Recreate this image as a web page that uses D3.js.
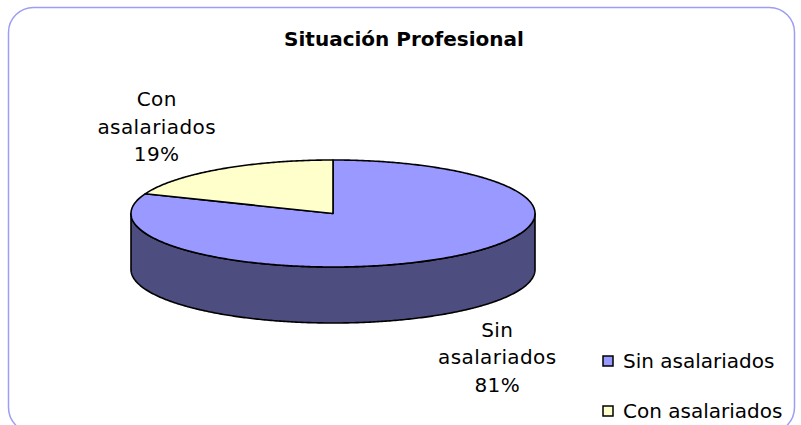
<!DOCTYPE html>
<html>
<head>
<meta charset="utf-8">
<script src="https://cdn.jsdelivr.net/npm/d3@7"></script>
<style>
  body { margin: 0; background: #fff; }
  svg { display: block; font-family: "DejaVu Sans", sans-serif; }
</style>
</head>
<body>
<div id="chart"></div>
<script>
const title = 'Situación Profesional';
const categories = ['Sin asalariados', 'Con asalariados'];
const values = [81, 19];
const labelLines = [['Sin', 'asalariados', '81%'], ['Con', 'asalariados', '19%']];
const topColors = ['#9999ff', '#ffffcc'];
const sideColors = ['#4d4d80', '#80805f'];

const width = 801;
const height = 425;

// pie geometry (ellipse seen at an angle)
const cx = 333, cy = 213.5;
const rx = 202, ry = 53.5;
const depth = 56;

const svg = d3.select('#chart')
  .append('svg')
  .attr('width', width)
  .attr('height', height);

// chart frame
svg.append('rect')
  .attr('x', 8.5)
  .attr('y', 7.5)
  .attr('width', 786)
  .attr('height', 425)
  .attr('rx', 25)
  .attr('fill', '#fff')
  .attr('stroke', '#9d9df5')
  .attr('stroke-width', 1.5);

svg.append('text')
  .attr('x', 404)
  .attr('y', 46)
  .attr('text-anchor', 'middle')
  .style('font-size', '20px')
  .style('font-weight', 'bold')
  .text(title);

const color = d3.scaleOrdinal().domain(categories).range(topColors);
const sideColor = d3.scaleOrdinal().domain(categories).range(sideColors);

const arcs = d3.pie().sort(null).startAngle(0).endAngle(2 * Math.PI)
  .value(d => d.value)(categories.map((c, i) => ({ name: c, value: values[i], lines: labelLines[i] })));

const ex = a => cx + rx * Math.sin(a);
const ey = a => cy - ry * Math.cos(a);

function sample(a0, a1) {
  const n = Math.max(2, Math.ceil(Math.abs(a1 - a0) / 0.01));
  return d3.range(n + 1).map(i => a0 + (a1 - a0) * i / n);
}

const line = d3.line();

function topPath(d) {
  const pts = [[cx, cy]].concat(sample(d.startAngle, d.endAngle).map(a => [ex(a), ey(a)]));
  return line(pts) + 'Z';
}

// front wall is visible where the angle is between PI/2 and 3PI/2
function sidePath(d) {
  const a0 = Math.max(d.startAngle, Math.PI / 2);
  const a1 = Math.min(d.endAngle, 3 * Math.PI / 2);
  if (a1 <= a0) return null;
  const top = sample(a0, a1).map(a => [ex(a), ey(a)]);
  const bottom = sample(a1, a0).map(a => [ex(a), ey(a) + depth]);
  return line(top.concat(bottom)) + 'Z';
}

const pie = svg.append('g');

pie.selectAll('path.side')
  .data(arcs.filter(d => sidePath(d)))
  .join('path')
  .attr('class', 'side')
  .attr('d', sidePath)
  .attr('fill', d => sideColor(d.data.name))
  .attr('stroke', '#000')
  .attr('stroke-width', 1.6)
  .attr('stroke-linejoin', 'round');

pie.selectAll('path.top')
  .data(arcs)
  .join('path')
  .attr('class', 'top')
  .attr('d', topPath)
  .attr('fill', d => color(d.data.name))
  .attr('stroke', '#000')
  .attr('stroke-width', 1.6)
  .attr('stroke-linejoin', 'round');

// data labels, outside the slices
const lineHeight = 27.5;
const labels = svg.append('g')
  .style('font-size', '20px')
  .style('letter-spacing', '0.4px')
  .selectAll('text')
  .data(arcs)
  .join('text')
  .attr('text-anchor', 'middle')
  .each(function (d) {
    const a = (d.startAngle + d.endAngle) / 2;
    const front = Math.cos(a) < 0;
    const x = cx + rx * 1.5 * Math.sin(a) - 6;
    const y = cy - ry * 1.5 * Math.cos(a) + (front ? depth + 1 : 14 - 2 * lineHeight);
    d3.select(this).selectAll('tspan')
      .data(d.data.lines)
      .join('tspan')
      .attr('x', x)
      .attr('y', (_, i) => y + i * lineHeight)
      .text(t => t);
  });

// legend
const legend = svg.append('g')
  .attr('transform', 'translate(603,356)');

const legendItem = legend.selectAll('g')
  .data(categories)
  .join('g')
  .attr('transform', (_, i) => `translate(0,${i * 50})`);

legendItem.append('rect')
  .attr('width', 10)
  .attr('height', 10)
  .attr('fill', d => color(d))
  .attr('stroke', '#000')
  .attr('stroke-width', 1.5);

legendItem.append('text')
  .attr('x', 20)
  .attr('y', 12)
  .style('font-size', '20px')
  .text(d => d);
</script>
</body>
</html>
